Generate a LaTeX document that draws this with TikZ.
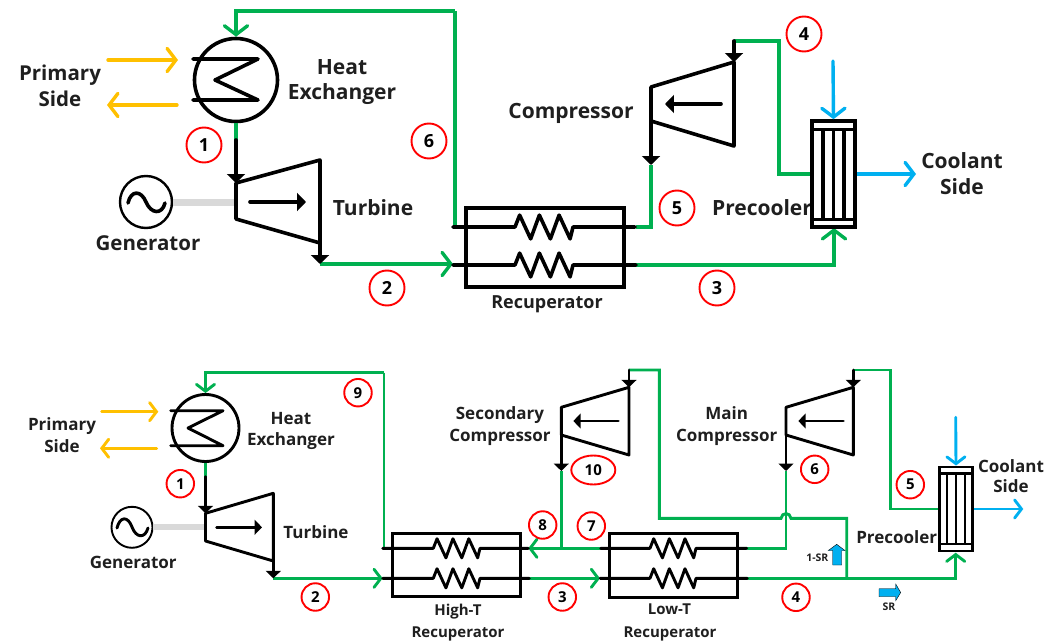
\documentclass[tikz,border=0pt]{standalone}
\usepackage{fontspec}
\setmainfont{Open Sans}
\usetikzlibrary{arrows.meta,shapes.geometric}
\definecolor{fgreen}{HTML}{00B050}
\definecolor{fyellow}{HTML}{FFC000}
\definecolor{fblue}{HTML}{00B0F0}
\definecolor{fgray}{HTML}{D9D9D9}
\tikzset{
 x=1pt,y=-1pt,
 lab/.style={inner sep=0pt,font=\fontsize{#1}{#1}\selectfont\bfseries,align=center,text=black!88,anchor=base,yshift=-#1*.36pt},
 tag/.style={draw=red,fill=white,circle,line width=1.9pt,inner sep=0pt,minimum size=#1},
 bigtag/.style={tag=35pt,font=\fontsize{18}{18}\selectfont\bfseries},
 smalltag/.style={tag=27.5pt,font=\fontsize{15}{15}\selectfont\bfseries},
 gline/.style={draw=fgreen,line width=#1,line join=miter},
 kline/.style={draw=black,line width=#1,line join=round,line cap=round},
 openG/.style={-{Straight Barb[length=#1*.55pt,width=#1*1.45pt,line cap=round]}},
 solid tip/.style={-{Triangle[length=#1*.55pt,width=#1*1.1pt]}},
}
\newcommand{\coilpath}[7]{%
 \coordinate (#1L) at (#2,#6);\coordinate (#1R) at (#5,#6);
 \draw[kline=#7pt] (#1L) -- (#3,#6)
  -- ({#3+.08*(#4-#3)},{#6-3.3*#7})
  -- ({#3+.27*(#4-#3)},{#6+3.3*#7})
  -- ({#3+.42*(#4-#3)},{#6-3.3*#7})
  -- ({#3+.61*(#4-#3)},{#6+3.3*#7})
  -- ({#3+.76*(#4-#3)},{#6-3.3*#7})
  -- ({#3+.95*(#4-#3)},{#6+3.3*#7})
  -- (#4,#6) -- (#1R);}
\begin{document}
\begin{tikzpicture}
\useasboundingbox (0,0) rectangle (1061,642);
% ===== top cycle labels
\node[lab=20.5] (tP1) at (60,73) {Primary};
\node[lab=20.5] (tP2) at (60,99) {Side};
\node[lab=21] (tH1) at (342,67) {Heat};
\node[lab=21] (tH2) at (342,92) {Exchanger};
\node[lab=21] (tT) at (373,208) {Turbine};
\node[lab=20.5] (tG) at (148,243) {Generator};
\node[lab=21] (tC) at (571,111) {Compressor};
\node[lab=21] (tPc) at (762,208) {Precooler};
\node[lab=21] (tCo1) at (962,161) {Coolant};
\node[lab=21] (tCo2) at (962,187) {Side};
\node[lab=18] (tR) at (547,302) {Recuperator};
% top coordinates
\node[circle,draw,line width=3.6pt,fill=white,minimum size=83pt,inner sep=0pt] (ahx) at (236,80) {};
\coordinate (a1) at (236,11);\coordinate (a2) at (455,11);\coordinate (a3) at (455,227);
\coordinate (a4) at (236,140);
\coordinate (at1) at (236,183);\coordinate (at2) at (320,160);\coordinate (at3) at (320,243);\coordinate (at4) at (236,219);
\coordinate (ac1) at (651,87);\coordinate (ac2) at (734,62);\coordinate (ac3) at (734,146);\coordinate (ac4) at (651,121);
\coordinate (a5) at (320,264);\coordinate (a6) at (453,264);
\coordinate (a7) at (651,165);\coordinate (a7b) at (651,227);
\coordinate (a8) at (734,41);\coordinate (a9) at (779,41);\coordinate (a10) at (779,174);
\coordinate (a11) at (834,265);\coordinate (a12) at (834,228);
% top green
\draw[gline=3.4pt,openG=16] (a2) -- (a1) -- (ahx.north);
\draw[gline=3.4pt] (a2) -- (a3);
\draw[gline=3.4pt] (ahx.south) -- (a4);
\draw[gline=3.4pt,openG=16] (a5) -- (a6);
\draw[gline=3.4pt] (a7) -- (a7b) -- (636,227);
\draw[gline=3.4pt] (a8) -- (a9) -- (a10) -- (812,174);
\draw[gline=3.4pt,openG=16] (636,265) -- (a11) -- (a12);
% top HX coil
\draw[kline=3.6pt] (193,59) -- (258,59) -- (215,80) -- (258,100) -- (193,100);
% primary arrows
\coordinate (ay1) at (108,60);\coordinate (ay2) at (178,60);\coordinate (ay3) at (177,105);\coordinate (ay4) at (107,105);
\draw[draw=fyellow,line width=3.4pt,line cap=round,openG=16] (ay1) -- (ay2);
\draw[draw=fyellow,line width=3.4pt,line cap=round,openG=16] (ay3) -- (ay4);
% turbine
\node[circle,draw,line width=2.4pt,minimum size=52pt,inner sep=0pt] (agen) at (146,202) {};
\draw[fgray,line width=7pt] (agen.east) -- (236,202);
\draw[kline=3.6pt] (128,203) .. controls (131,190) and (141,190) .. (146,202) .. controls (151,214) and (162,215) .. (165,203);
\draw[kline=3.6pt,solid tip=16] (a4) -- (at1);
\draw[kline=3.6pt] (at1) -- (at2) -- (at3) -- (at4) -- cycle;
\draw[kline=3.6pt,solid tip=16] (250,202) -- (306,202);
\draw[kline=3.6pt,solid tip=16] (at3) -- (a5);
% compressor
\draw[kline=3.6pt] (ac1) -- (ac2) -- (ac3) -- (ac4) -- cycle;
\draw[kline=3.6pt,solid tip=16] (721,104) -- (665,104);
\draw[kline=3.6pt,solid tip=16] (a8) -- (ac2);
\draw[kline=3.6pt,solid tip=16] (ac4) -- (a7);
% recuperator
\node[draw,line width=3.6pt,minimum width=158pt,minimum height=79pt,inner sep=0pt] (arec) at (545,247.5) {};
\coilpath{ac}{453}{515}{573}{635}{227}{3.6}
\coilpath{ad}{453}{515}{573}{636}{265}{3.6}
% precooler
\node[draw,line width=3.6pt,fill=white,minimum width=43pt,minimum height=106pt,inner sep=0pt] (apc) at (833.5,174) {};
\foreach \xx in {823,833.5,844}{\draw[line width=3.6pt] (\xx,129) -- (\xx,219);}
\draw[line width=3pt] (812,129) -- (855,129) (812,219) -- (855,219);
\coordinate (ab1) at (833,61);\coordinate (ab2) at (916,174);
\draw[draw=fblue,line width=3.4pt,line cap=round,openG=16] (ab1) -- (apc.north);
\draw[draw=fblue,line width=3.4pt,openG=16] (apc.east) -- (ab2);
% tags
\node[bigtag] (n1) at (204,145) {1};
\node[bigtag] (n2) at (387,288) {2};
\node[bigtag] (n3) at (717,288) {3};
\node[bigtag] (n4) at (804,34) {4};
\node[bigtag] (n5) at (677,208) {5};
\node[bigtag] (n6) at (429,141) {6};

% ===== bottom cycle labels
\node[lab=17] (bP1) at (62,424) {Primary};
\node[lab=17] (bP2) at (62,446) {Side};
\node[lab=17] (bH1) at (291,418.3) {Heat};
\node[lab=17] (bH2) at (291,439.3) {Exchanger};
\node[lab=17] (bT) at (316,532.7) {Turbine};
\node[lab=17] (bG) at (133.3,562) {Generator};
\node[lab=17] (bS1) at (500,413.5) {Secondary};
\node[lab=17] (bS2) at (500,435.5) {Compressor};
\node[lab=17] (bM1) at (726.7,413.3) {Main};
\node[lab=17] (bM2) at (726.7,435) {Compressor};
\node[lab=17] (bPc) at (896.7,537.7) {Precooler};
\node[lab=17] (bCo1) at (1011,466) {Coolant};
\node[lab=17] (bCo2) at (1011,486.7) {Side};
\node[lab=15] (bH3) at (458,610) {High-T};
\node[lab=15] (bH4) at (458,631.7) {Recuperator};
\node[lab=15] (bL3) at (669.5,609.5) {Low-T};
\node[lab=15] (bL4) at (670,631.7) {Recuperator};
\node[lab=10.5] (b1s) at (817.3,558) {1-SR};
\node[lab=10.5] (bsr) at (889,607) {SR};
% bottom coordinates
\node[circle,draw,line width=2.9pt,fill=white,minimum size=67pt,inner sep=0pt] (bhx) at (205.5,428) {};
\coordinate (c1) at (205.5,372.7);\coordinate (c2) at (384,372.7);\coordinate (c3) at (384,548.3);
\coordinate (c4) at (205.5,476.7);
\coordinate (bt1) at (205.5,513.3);\coordinate (bt2) at (273.3,493.3);\coordinate (bt3) at (273.3,561);\coordinate (bt4) at (205.5,541);
\coordinate (c5) at (273.3,578.3);\coordinate (c6) at (382.7,578.3);
\coordinate (s1) at (561.3,407.3);\coordinate (s2) at (629,387.3);\coordinate (s3) at (629,455);\coordinate (s4) at (561.3,435);
\coordinate (m1) at (786,407.3);\coordinate (m2) at (853.3,387.3);\coordinate (m3) at (853.3,455);\coordinate (m4) at (786,435);
\coordinate (d1) at (561.3,471);\coordinate (d2) at (561.3,548.3);
\coordinate (d3) at (629,370);\coordinate (d4) at (659.3,370);\coordinate (d5) at (659.3,518.3);\coordinate (d6) at (781,518.3);\coordinate (d7) at (791,518.3);\coordinate (d8) at (846.7,518.3);\coordinate (d9) at (846.7,578.3);
\coordinate (e1) at (786,471);\coordinate (e2) at (786,548.3);\coordinate (e3) at (746.7,548.3);
\coordinate (f1) at (853.3,370);\coordinate (f2) at (890.7,370);\coordinate (f3) at (890.7,509);
\coordinate (g1) at (600.7,548.3);\coordinate (g2) at (528.3,548.3);\coordinate (g3) at (529.3,578.3);\coordinate (g4) at (600,578.3);
\coordinate (g5) at (747.3,578.3);\coordinate (g6) at (955.7,578.3);\coordinate (g7) at (955.7,552.7);
% bottom green
\draw[gline=2.9pt,openG=12.5] (c2) -- (c1) -- (bhx.north);
\draw[gline=2.9pt] (c2) -- (c3);
\draw[gline=2.9pt] (bhx.south) -- (c4);
\draw[gline=2.9pt,openG=12.5] (c5) -- (c6);
\draw[gline=2.9pt] (d1) -- (d2);
\draw[gline=2.9pt,openG=12.5] (g1) -- (g2);
\draw[gline=2.9pt,openG=12.5] (g3) -- (g4);
\draw[gline=2.9pt] (d3) -- (d4) -- (d5) -- (d6) .. controls (782,512) and (790,512) .. (d7) -- (d8) -- (d9);
\draw[gline=2.9pt] (e1) -- (e2) -- (e3);
\draw[gline=2.9pt] (f1) -- (f2) -- (f3) -- (938.7,509);
\draw[gline=2.9pt,openG=12.5] (g5) -- (g6) -- (g7);
% HX coil
\draw[kline=2.9pt] (170.7,410.7) -- (223,410.7) -- (188,428) -- (223,445.7) -- (170.7,445.7);
\coordinate (by1) at (101.7,411.7);\coordinate (by2) at (158.3,411.7);\coordinate (by3) at (156.7,448.3);\coordinate (by4) at (100,448.3);
\draw[draw=fyellow,line width=2.9pt,line cap=round,openG=12.5] (by1) -- (by2);
\draw[draw=fyellow,line width=2.9pt,line cap=round,openG=12.5] (by3) -- (by4);
% turbine
\node[circle,draw,line width=1.9pt,minimum size=41pt,inner sep=0pt] (bgen) at (132,527.3) {};
\draw[fgray,line width=6pt] (bgen.east) -- (205.5,527.3);
\draw[kline=2.9pt] (117,528) .. controls (120,516) and (128,516) .. (132,527) .. controls (136,538) and (145,539) .. (148,528);
\draw[kline=2.9pt,solid tip=13.5] (c4) -- (bt1);
\draw[kline=2.9pt] (bt1) -- (bt2) -- (bt3) -- (bt4) -- cycle;
\draw[kline=2.9pt,solid tip=13.5] (216.7,527.3) -- (262,527.3);
\draw[kline=2.9pt,solid tip=13.5] (bt3) -- (c5);
% compressors
\draw[kline=2.9pt] (s1) -- (s2) -- (s3) -- (s4) -- cycle;
\draw[kline=2.9pt,solid tip=13.5] (618.3,421) -- (573.3,421);
\draw[kline=2.9pt,solid tip=13.5] (d3) -- (s2);
\draw[kline=2.9pt,solid tip=13.5] (s4) -- (d1);
\draw[kline=2.9pt] (m1) -- (m2) -- (m3) -- (m4) -- cycle;
\draw[kline=2.9pt,solid tip=13.5] (843.3,421) -- (798.3,421);
\draw[kline=2.9pt,solid tip=13.5] (f1) -- (m2);
\draw[kline=2.9pt,solid tip=13.5] (m4) -- (e1);
% recuperators
\node[draw,line width=2.9pt,minimum width=128pt,minimum height=63.4pt,inner sep=0pt] (hrec) at (456.7,565) {};
\coilpath{he}{382.7}{433.3}{480}{528.3}{548.3}{2.9}
\coilpath{hf}{382.7}{433.3}{480}{529.3}{578.3}{2.9}
\node[draw,line width=2.9pt,minimum width=128.3pt,minimum height=64pt,inner sep=0pt] (lrec) at (673.2,565.3) {};
\coilpath{le}{600.7}{650}{696}{746.7}{548.3}{2.9}
\coilpath{lf}{600}{650}{696}{747.3}{578.3}{2.9}
% precooler
\node[draw,line width=2.9pt,fill=white,minimum width=33pt,minimum height=84pt,inner sep=0pt] (bpc) at (956,509) {};
\foreach \xx in {947,956,965}{\draw[line width=2.9pt] (\xx,473.3) -- (\xx,544);}
\draw[line width=2.4pt] (939.5,473.3) -- (972.5,473.3) (939.5,544) -- (972.5,544);
\coordinate (bb1) at (955.7,417.3);\coordinate (bb2) at (1023.3,509);
\draw[draw=fblue,line width=2.9pt,line cap=round,openG=12.5] (bb1) -- (bpc.north);
\draw[draw=fblue,line width=2.9pt,openG=12.5] (bpc.east) -- (bb2);
% split arrows
\draw[fill=fblue,draw=black,line width=.4pt] (832.7,565) -- (832.7,550.5) -- (828.3,550.5) -- (836.7,544.3) -- (845,550.5) -- (841.7,550.5) -- (841.7,565) -- cycle;
\draw[fill=fblue,draw=black,line width=.4pt] (879,588.7) -- (895.7,588.7) -- (895.7,584) -- (900.7,592.5) -- (895.7,600.7) -- (895.7,596.7) -- (879,596.7) -- cycle;
% tags
\node[smalltag] (m1t) at (180.3,483.7) {1};
\node[smalltag] (m2t) at (315.3,597) {2};
\node[smalltag] (m3t) at (562.3,597) {3};
\node[smalltag] (m4t) at (796,597.3) {4};
\node[smalltag] (m5t) at (910.3,484.7) {5};
\node[smalltag] (m6t) at (814.7,469.3) {6};
\node[smalltag] (m7t) at (591.3,526) {7};
\node[smalltag] (m8t) at (542.7,525) {8};
\node[smalltag] (m9t) at (358,392.7) {9};
\node[draw=red,fill=white,ellipse,line width=1.9pt,inner sep=0pt,minimum width=44pt,minimum height=29pt,font=\fontsize{15}{15}\selectfont\bfseries] (m10t) at (593.3,470) {10};
\end{tikzpicture}
\end{document}
